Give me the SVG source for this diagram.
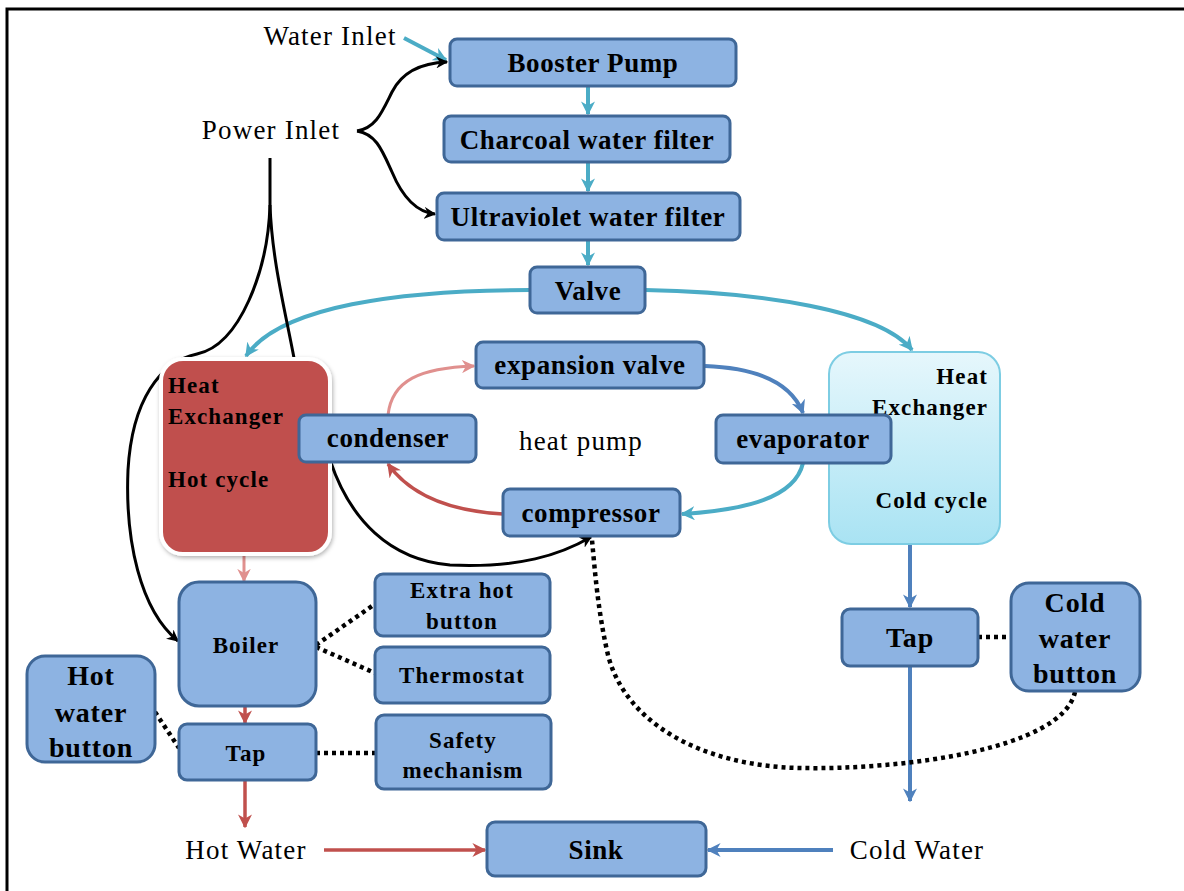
<svg xmlns="http://www.w3.org/2000/svg" width="1184" height="891" viewBox="0 0 1184 891">
<style>
.box{fill:#8db3e2;stroke:#3f6797;stroke-width:3}
.t{font-family:"Liberation Serif",serif;font-weight:bold;fill:#000;text-anchor:middle;dominant-baseline:central}
.m{font-size:27px;letter-spacing:0.6px}
.s{font-size:23px;letter-spacing:1.1px}
.b{font-size:28px;letter-spacing:0.8px}
.l{font-family:"Liberation Serif",serif;fill:#000;text-anchor:middle;dominant-baseline:central;font-size:27px;letter-spacing:1.2px}
.blk{fill:none;stroke:#000;stroke-width:3}
.cy{fill:none;stroke:#4bacc6;stroke-width:4}
.bl{fill:none;stroke:#4f81bd;stroke-width:4}
.rd{fill:none;stroke:#c0504d;stroke-width:3.5}
.pk{fill:none;stroke:#e0908e;stroke-width:3}
.dot{fill:none;stroke:#000;stroke-width:4.5;stroke-dasharray:4 4}
</style>
<defs>
<marker id="aBk" viewBox="0 0 10 10" refX="9" refY="5" markerWidth="4" markerHeight="4" orient="auto" markerUnits="strokeWidth"><path d="M0,0 L10,5 L0,10 L3,5 z" fill="#000"/></marker>
<marker id="aCy" viewBox="0 0 10 10" refX="9" refY="5" markerWidth="3.5" markerHeight="3.5" orient="auto" markerUnits="strokeWidth"><path d="M0,0 L10,5 L0,10 L3,5 z" fill="#4bacc6"/></marker>
<marker id="aBl" viewBox="0 0 10 10" refX="9" refY="5" markerWidth="3.5" markerHeight="3.5" orient="auto" markerUnits="strokeWidth"><path d="M0,0 L10,5 L0,10 L3,5 z" fill="#4f81bd"/></marker>
<marker id="aRd" viewBox="0 0 10 10" refX="9" refY="5" markerWidth="4" markerHeight="4" orient="auto" markerUnits="strokeWidth"><path d="M0,0 L10,5 L0,10 L3,5 z" fill="#c0504d"/></marker>
<marker id="aPk" viewBox="0 0 10 10" refX="9" refY="5" markerWidth="4.5" markerHeight="4.5" orient="auto" markerUnits="strokeWidth"><path d="M0,0 L10,5 L0,10 L3,5 z" fill="#e0908e"/></marker>
<linearGradient id="gCold" x1="0" y1="0" x2="0" y2="1"><stop offset="0" stop-color="#e6f7fc"/><stop offset="1" stop-color="#a9e3f3"/></linearGradient>
<filter id="sh" x="-10%" y="-10%" width="130%" height="130%"><feDropShadow dx="1" dy="2" stdDeviation="2" flood-color="#000" flood-opacity="0.3"/></filter>
</defs>
<rect x="0" y="0" width="1184" height="891" fill="#fff"/>
<path d="M7,891 L7,9 L1184,9" fill="none" stroke="#000" stroke-width="3"/>

<g id="connectors">
<path class="cy" d="M404,38 L446,60" marker-end="url(#aCy)"/>
<path class="blk" d="M357,131 C376,128 382,112 392,92 C402,72 420,63 447,62" marker-end="url(#aBk)"/>
<path class="blk" d="M357,131 C376,134 382,150 392,172 C402,196 416,212 435,214" marker-end="url(#aBk)"/>
<path class="cy" d="M588,86 L588,114" marker-end="url(#aCy)"/>
<path class="cy" d="M588,163 L588,191" marker-end="url(#aCy)"/>
<path class="cy" d="M588,241 L588,265" marker-end="url(#aCy)"/>
<path class="cy" d="M530,290 C400,290 280,306 246,356" marker-end="url(#aCy)"/>
<path class="cy" d="M645,290 C760,292 880,310 912,350" marker-end="url(#aCy)"/>
<path class="blk" d="M270,158 L270,205 C268,270 240,345 197,354 C160,362 132,400 128,470 C125,540 140,610 178,641" marker-end="url(#aBk)"/>
<path class="blk" d="M270,205 C272,260 285,310 294,358 L330,460 C350,520 390,560 450,565 C520,568 560,555 591,537" marker-end="url(#aBk)"/>
<path class="pk" d="M388,415 C392,380 420,368 474,366" marker-end="url(#aPk)"/>
<path class="bl" d="M705,366 C760,368 792,385 803,413" marker-end="url(#aBl)"/>
<path class="cy" d="M803,463 C795,498 745,510 682,514" marker-end="url(#aCy)"/>
<path class="rd" d="M503,514 C450,511 410,495 388,464" marker-end="url(#aRd)"/>
<path class="pk" d="M244,555 L244,581" marker-end="url(#aPk)"/>
<path class="rd" d="M245,706 L245,723" marker-end="url(#aRd)"/>
<path class="rd" d="M245,781 L245,827" marker-end="url(#aRd)"/>
<path class="rd" d="M324,850 L485,850" marker-end="url(#aRd)"/>
<path class="bl" d="M833,850 L708,850" marker-end="url(#aBl)"/>
<path class="bl" d="M910,545 L910,607" marker-end="url(#aBl)"/>
<path class="bl" d="M910,667 L910,801" marker-end="url(#aBl)"/>
<path class="dot" d="M316,645 L375,604"/>
<path class="dot" d="M316,647 L375,673"/>
<path class="dot" d="M155,712 L179,748"/>
<path class="dot" d="M316,753 L376,753"/>
<path class="dot" d="M978,637 L1011,637"/>
<path class="dot" d="M1075,692 C1062,750 900,770 800,768 C700,766 625,722 608,655 C598,612 595,572 592,540"/>
</g>

<g id="water-inlet"><text class="l" x="330" y="36">Water Inlet</text></g>
<g id="power-inlet"><text class="l" x="271" y="130">Power Inlet</text></g>
<g id="booster-pump"><rect class="box" x="450" y="39" width="286" height="47" rx="7"/><text class="t m" x="593" y="63">Booster Pump</text></g>
<g id="charcoal-filter"><rect class="box" x="444" y="116" width="286" height="46" rx="7"/><text class="t m" x="587" y="140">Charcoal water filter</text></g>
<g id="uv-filter"><rect class="box" x="437" y="193" width="303" height="47" rx="7"/><text class="t m" x="588" y="217">Ultraviolet water filter</text></g>
<g id="valve"><rect class="box" x="530" y="267" width="115" height="46" rx="7"/><text class="t m" x="588" y="291">Valve</text></g>

<g id="hot-heat-exchanger"><rect x="161" y="359" width="169" height="195" rx="22" fill="#c0504d" stroke="#fff" stroke-width="4" filter="url(#sh)"/>
<text class="t s" x="168" y="385" style="text-anchor:start">Heat</text>
<text class="t s" x="168" y="416" style="text-anchor:start">Exchanger</text>
<text class="t s" x="168" y="479" style="text-anchor:start">Hot cycle</text></g>

<g id="cold-heat-exchanger"><rect x="829" y="352" width="171" height="192" rx="22" fill="url(#gCold)" stroke="#7dcde3" stroke-width="2"/>
<text class="t s" x="988" y="376" style="text-anchor:end">Heat</text>
<text class="t s" x="988" y="407" style="text-anchor:end">Exchanger</text>
<text class="t s" x="988" y="500" style="text-anchor:end">Cold cycle</text></g>

<g id="condenser"><rect class="box" x="299" y="415" width="177" height="47" rx="7"/><text class="t m" x="388" y="438">condenser</text></g>
<g id="expansion-valve"><rect class="box" x="476" y="342" width="228" height="46" rx="7"/><text class="t m" x="590" y="365">expansion valve</text></g>
<g id="heat-pump"><text class="l" x="581" y="441">heat pump</text></g>
<g id="evaporator"><rect class="box" x="716" y="415" width="175" height="48" rx="7"/><text class="t m" x="803" y="439">evaporator</text></g>
<g id="compressor"><rect class="box" x="503" y="489" width="177" height="47" rx="7"/><text class="t m" x="591" y="513">compressor</text></g>

<g id="boiler"><rect class="box" x="179" y="582" width="137" height="124" rx="20"/><text class="t s" x="246" y="645">Boiler</text></g>
<g id="extra-hot-button"><rect class="box" x="375" y="574" width="175" height="62" rx="8"/><text class="t s" x="462" y="590">Extra hot</text><text class="t s" x="462" y="621">button</text></g>
<g id="thermostat"><rect class="box" x="375" y="647" width="175" height="56" rx="8"/><text class="t s" x="462" y="675">Thermostat</text></g>
<g id="hot-water-button"><rect class="box" x="27" y="656" width="128" height="106" rx="18"/><text class="t b" x="91" y="675">Hot</text><text class="t b" x="91" y="712">water</text><text class="t b" x="91" y="747">button</text></g>
<g id="hot-tap"><rect class="box" x="179" y="724" width="137" height="56" rx="8"/><text class="t s" x="246" y="753">Tap</text></g>
<g id="safety-mechanism"><rect class="box" x="376" y="715" width="175" height="74" rx="8"/><text class="t s" x="463" y="740">Safety</text><text class="t s" x="463" y="770">mechanism</text></g>
<g id="hot-water"><text class="l" x="246" y="850">Hot Water</text></g>
<g id="sink"><rect class="box" x="487" y="822" width="219" height="54" rx="8"/><text class="t m" x="596" y="850">Sink</text></g>
<g id="cold-water"><text class="l" x="917" y="850">Cold Water</text></g>
<g id="cold-tap"><rect class="box" x="842" y="609" width="136" height="57" rx="8"/><text class="t b" x="910" y="637">Tap</text></g>
<g id="cold-water-button"><rect class="box" x="1011" y="583" width="129" height="108" rx="18"/><text class="t b" x="1075" y="602">Cold</text><text class="t b" x="1075" y="638">water</text><text class="t b" x="1075" y="673">button</text></g>
</svg>
